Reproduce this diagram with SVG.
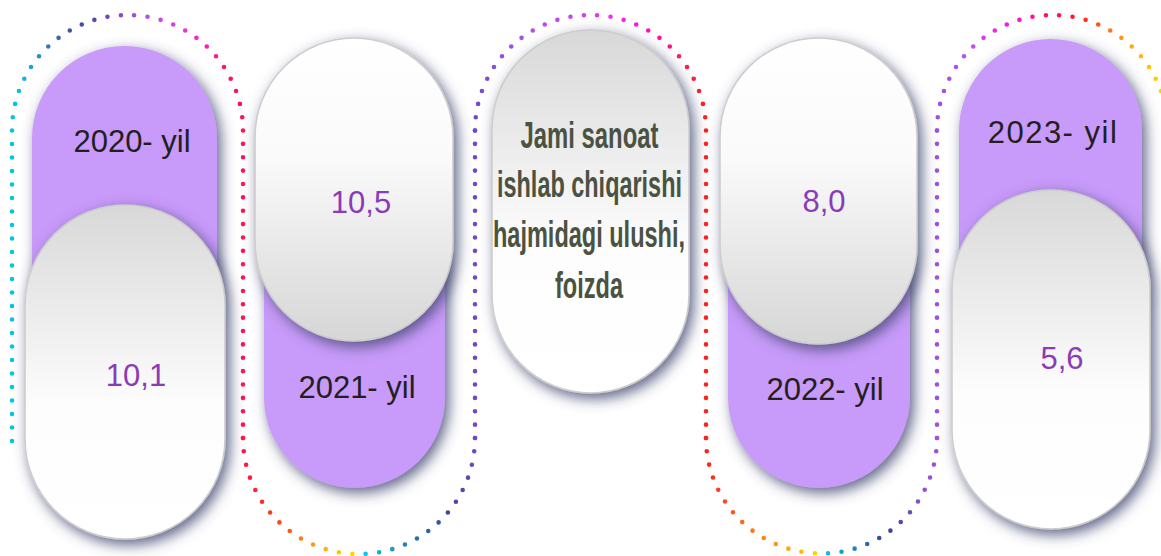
<svg xmlns="http://www.w3.org/2000/svg" width="1161" height="556" viewBox="0 0 1161 556">
<defs>
<style>
.yr{font-family:"Liberation Sans",Arial,sans-serif;font-size:31px;fill:#231f20;text-anchor:middle}
.val{font-family:"Liberation Sans",Arial,sans-serif;font-size:31px;fill:#8b3ab8;text-anchor:middle}
.ttl{font-family:"Liberation Sans",Arial,sans-serif;font-size:37px;font-weight:bold;fill:#4b5242;text-anchor:middle}
.pur{fill:#c89afa;filter:url(#sh)}
.wup{fill:url(#gUp);stroke:#cdcdcd;stroke-width:1.6;filter:url(#sh)}
.wdn{fill:url(#gDn);stroke:#cdcdcd;stroke-width:1.6;filter:url(#sh)}
.dot{fill:none;stroke-width:4.6;stroke-linecap:round;stroke-dasharray:0 1}
</style>
<filter id="sh" x="-30%" y="-20%" width="170%" height="145%">
<feDropShadow dx="4" dy="5" stdDeviation="7" flood-color="#454b75" flood-opacity="0.85"/>
</filter>
<linearGradient id="gDn" x1="0" y1="0" x2="0" y2="1">
<stop offset="0" stop-color="#d8d8d8"/><stop offset="0.6" stop-color="#fdfdfd"/><stop offset="1" stop-color="#ffffff"/>
</linearGradient>
<linearGradient id="gUp" x1="0" y1="0" x2="0" y2="1">
<stop offset="0" stop-color="#ffffff"/><stop offset="0.4" stop-color="#fafafa"/><stop offset="1" stop-color="#d6d6d6"/>
</linearGradient>
<linearGradient id="a1" gradientUnits="userSpaceOnUse" x1="12" y1="0" x2="243" y2="0">
<stop offset="0" stop-color="#00c8dc"/><stop offset="0.05" stop-color="#10b8d8"/><stop offset="0.14" stop-color="#3080c0"/><stop offset="0.24" stop-color="#3a5aa0"/><stop offset="0.34" stop-color="#5048a0"/><stop offset="0.45" stop-color="#8048c8"/><stop offset="0.57" stop-color="#b050e8"/><stop offset="0.68" stop-color="#d840f0"/><stop offset="0.79" stop-color="#ff20d8"/><stop offset="0.88" stop-color="#ff1890"/><stop offset="0.95" stop-color="#ff1060"/><stop offset="1" stop-color="#ff1058"/>
</linearGradient>
<linearGradient id="b1" gradientUnits="userSpaceOnUse" x1="243" y1="0" x2="475" y2="0">
<stop offset="0" stop-color="#ff1450"/><stop offset="0.09" stop-color="#ff3020"/><stop offset="0.18" stop-color="#ff5010"/><stop offset="0.28" stop-color="#ff9010"/><stop offset="0.38" stop-color="#ffc000"/><stop offset="0.49" stop-color="#ffd800"/><stop offset="0.52" stop-color="#10c8d8"/><stop offset="0.64" stop-color="#1898c8"/><stop offset="0.75" stop-color="#2870b0"/><stop offset="0.88" stop-color="#404898"/><stop offset="0.95" stop-color="#5a48a8"/><stop offset="1" stop-color="#7048c8"/>
</linearGradient>
<linearGradient id="a2" gradientUnits="userSpaceOnUse" x1="475" y1="0" x2="706" y2="0">
<stop offset="0" stop-color="#7048c8"/><stop offset="0.1" stop-color="#9050e0"/><stop offset="0.25" stop-color="#b050f0"/><stop offset="0.45" stop-color="#d040f0"/><stop offset="0.6" stop-color="#f030f0"/><stop offset="0.72" stop-color="#ff10d0"/><stop offset="0.82" stop-color="#ff1090"/><stop offset="0.9" stop-color="#ff1858"/><stop offset="1" stop-color="#ff2020"/>
</linearGradient>
<linearGradient id="b2" gradientUnits="userSpaceOnUse" x1="706" y1="0" x2="937" y2="0">
<stop offset="0" stop-color="#ff2020"/><stop offset="0.1" stop-color="#ff5020"/><stop offset="0.18" stop-color="#ff7010"/><stop offset="0.28" stop-color="#ff9010"/><stop offset="0.38" stop-color="#ffb000"/><stop offset="0.49" stop-color="#ffd800"/><stop offset="0.52" stop-color="#10c0d8"/><stop offset="0.6" stop-color="#1a9ac8"/><stop offset="0.68" stop-color="#2a70b0"/><stop offset="0.78" stop-color="#404090"/><stop offset="0.86" stop-color="#6048b8"/><stop offset="0.94" stop-color="#9050d8"/><stop offset="1" stop-color="#a050e0"/>
</linearGradient>
<linearGradient id="a3" gradientUnits="userSpaceOnUse" x1="937" y1="0" x2="1168" y2="0">
<stop offset="0" stop-color="#a050e0"/><stop offset="0.15" stop-color="#c050f0"/><stop offset="0.26" stop-color="#f020f0"/><stop offset="0.38" stop-color="#ff10c0"/><stop offset="0.5" stop-color="#ff1060"/><stop offset="0.61" stop-color="#ff2020"/><stop offset="0.72" stop-color="#ff6010"/><stop offset="0.81" stop-color="#ffa010"/><stop offset="0.9" stop-color="#ffc000"/><stop offset="1" stop-color="#ffd800"/>
</linearGradient>
</defs>
<rect width="1161" height="556" fill="#ffffff"/>

<g id="node-2020">
<rect class="pur" x="32" y="46" width="185" height="330" rx="92.5"/>
<text class="yr" x="132" y="152">2020- yil</text>
<rect class="wdn" x="25" y="205" width="200" height="334" rx="100"/>
<text class="val" x="136" y="386">10,1</text>
</g>

<g id="node-2021">
<rect class="pur" x="264" y="180" width="181" height="308" rx="90.5"/>
<text class="yr" x="357" y="398">2021- yil</text>
<rect class="wup" x="255" y="38" width="198" height="303" rx="99"/>
<text class="val" x="361" y="213">10,5</text>
</g>

<g id="node-title">
<rect class="wdn" x="492" y="30" width="197" height="363" rx="98.5"/>
<text class="ttl" x="589.5" y="148" textLength="138" lengthAdjust="spacingAndGlyphs">Jami sanoat</text>
<text class="ttl" x="589.5" y="197" textLength="185" lengthAdjust="spacingAndGlyphs">ishlab chiqarishi</text>
<text class="ttl" x="589" y="247" textLength="192" lengthAdjust="spacingAndGlyphs">hajmidagi ulushi,</text>
<text class="ttl" x="589" y="298" textLength="68" lengthAdjust="spacingAndGlyphs">foizda</text>
</g>

<g id="node-2022">
<rect class="pur" x="728" y="180" width="182" height="308" rx="91"/>
<text class="yr" x="825" y="400">2022- yil</text>
<rect class="wup" x="720" y="38" width="197" height="306" rx="98.5"/>
<text class="val" x="824" y="212">8,0</text>
</g>

<g id="node-2023">
<rect class="pur" x="959" y="39" width="183" height="330" rx="91.5"/>
<text class="yr" x="1053" y="143" letter-spacing="1.5">2023- yil</text>
<rect class="wdn" x="952" y="190" width="198" height="339" rx="99"/>
<text class="val" x="1062" y="369">5,6</text>
</g>

<g id="connectors">
<path class="dot" stroke="#00c8dc" pathLength="23" d="M12 441 V130.5"/>
<path class="dot" stroke="url(#a1)" pathLength="27" d="M12 130.5 A115.5 115.5 0 0 1 243 130.5"/>
<path class="dot" stroke="#ff1458" pathLength="23" d="M243 130.5 V438"/>
<path class="dot" stroke="url(#b1)" pathLength="27" d="M243 438 A116 116 0 0 0 475 438"/>
<path class="dot" stroke="#7048c8" pathLength="23" d="M475 438 V130.5"/>
<path class="dot" stroke="url(#a2)" pathLength="27" d="M475 130.5 A115.5 115.5 0 0 1 706 130.5"/>
<path class="dot" stroke="#ff2020" pathLength="23" d="M706 130.5 V438"/>
<path class="dot" stroke="url(#b2)" pathLength="27" d="M706 438 A115.5 115.5 0 0 0 937 438"/>
<path class="dot" stroke="#a050e0" pathLength="23" d="M937 438 V130.5"/>
<path class="dot" stroke="url(#a3)" pathLength="27" d="M937 130.5 A115.5 115.5 0 0 1 1168 130.5"/>
</g>
</svg>
